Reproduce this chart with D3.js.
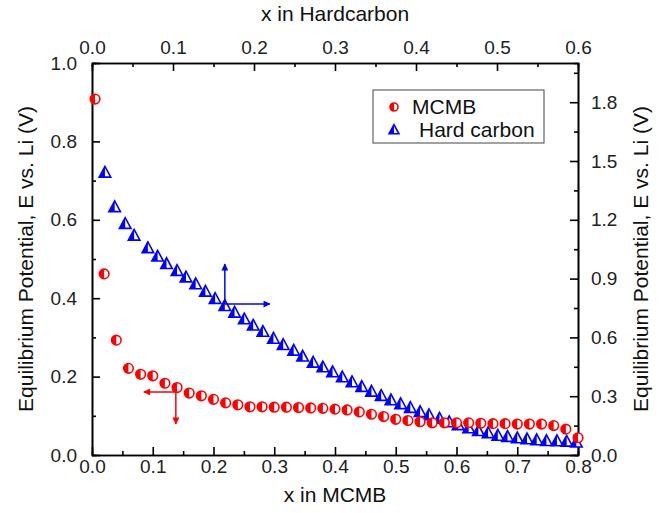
<!DOCTYPE HTML>
<html>
  <head>
    <script src="https://d3js.org/d3.v7.min.js"></script>
    <style>
      body, html {
        margin: 0;
        background: white;
        font-family: 'Liberation Sans', Arial, sans-serif;
      }
      .axis path, .axis line {
        stroke: #000;
        stroke-width: 1.6px;
      }
      .axis text {
        font-size: 19px;
        font-family: 'Liberation Sans', Arial, sans-serif;
        fill: #222;
      }
      .title {
        font-size: 21px;
        fill: #111;
      }
      .legend text {
        font-size: 21px;
        fill: #111;
      }
    </style>
  </head>
  <body>
    <div id="chart"></div>
    <script>
      // MCMB: bottom x axis, left y axis
      var mcmbX = [0.005, 0.02, 0.04, 0.06, 0.08, 0.10, 0.12, 0.14, 0.16, 0.18, 0.20,
                   0.22, 0.24, 0.26, 0.28, 0.30, 0.32, 0.34, 0.36, 0.38, 0.40,
                   0.42, 0.44, 0.46, 0.48, 0.50, 0.52, 0.54, 0.56, 0.58, 0.60,
                   0.62, 0.64, 0.66, 0.68, 0.70, 0.72, 0.74, 0.76, 0.78, 0.80];
      var mcmbE = [0.908, 0.462, 0.293, 0.221, 0.206, 0.202, 0.183, 0.172, 0.158, 0.151, 0.142,
                   0.133, 0.128, 0.123, 0.123, 0.122, 0.122, 0.121, 0.120, 0.119, 0.117,
                   0.115, 0.110, 0.104, 0.098, 0.091, 0.088, 0.085, 0.082, 0.082, 0.082,
                   0.082, 0.081, 0.080, 0.080, 0.079, 0.079, 0.079, 0.075, 0.066, 0.044];
      // Hard carbon: top x axis, right y axis
      var hcX = [0.016, 0.028, 0.041, 0.052, 0.069, 0.081, 0.092, 0.105, 0.116, 0.128,
                 0.140, 0.152, 0.164, 0.176, 0.188, 0.199, 0.211, 0.224, 0.236, 0.249,
                 0.260, 0.273, 0.285, 0.297, 0.309, 0.321, 0.333, 0.345, 0.357, 0.369,
                 0.381, 0.393, 0.405, 0.416, 0.429, 0.441, 0.452, 0.465, 0.477, 0.489,
                 0.501, 0.513, 0.525, 0.537, 0.549, 0.561, 0.574, 0.586, 0.598];
      var hcE = [1.440, 1.264, 1.179, 1.119, 1.055, 1.012, 0.974, 0.939, 0.906, 0.871,
                 0.833, 0.796, 0.760, 0.726, 0.692, 0.660, 0.628, 0.593, 0.561, 0.532,
                 0.502, 0.471, 0.447, 0.422, 0.396, 0.371, 0.347, 0.323, 0.301, 0.279,
                 0.259, 0.240, 0.219, 0.203, 0.185, 0.167, 0.152, 0.136, 0.122, 0.111,
                 0.098, 0.092, 0.085, 0.080, 0.075, 0.071, 0.070, 0.068, 0.063];

      var bottomTicks = [0.0, 0.1, 0.2, 0.3, 0.4, 0.5, 0.6, 0.7, 0.8];
      var topTicks = [0.0, 0.1, 0.2, 0.3, 0.4, 0.5, 0.6];
      var leftTicks = [0.0, 0.2, 0.4, 0.6, 0.8, 1.0];
      var rightTicks = [0.0, 0.3, 0.6, 0.9, 1.2, 1.5, 1.8];

      var seriesNames = ["MCMB", "Hard carbon"];
      var red = "#ff0000", blue = "#0000ff";

      var width = 661, height = 513;
      var margin = {top: 63, right: 83, bottom: 58, left: 92};
      var w = width - margin.left - margin.right;
      var h = height - margin.top - margin.bottom;

      var svg = d3.select("#chart")
        .append("svg")
        .attr("width", width)
        .attr("height", height);
      var g = svg.append("g")
        .attr("transform", "translate(" + margin.left + "," + margin.top + ")");

      var xBottom = d3.scaleLinear().domain([0, 0.8]).range([0, w]);
      var xTop = d3.scaleLinear().domain([0, 0.6]).range([0, w]);
      var yLeft = d3.scaleLinear().domain([0, 1.0]).range([h, 0]);
      var yRight = d3.scaleLinear().domain([0, 2.0]).range([h, 0]);

      var fmt = d3.format(".1f");

      function minor(scale, step) {
        var d = scale.domain(), out = [];
        for (var v = d[0] + step / 2; v < d[1] - 1e-9; v += step) out.push(v);
        return out;
      }

      // minor ticks
      g.append("g").attr("class", "axis")
        .attr("transform", "translate(0," + h + ")")
        .call(d3.axisBottom(xBottom).tickValues(minor(xBottom, 0.1)).tickSize(-4).tickFormat(""));
      g.append("g").attr("class", "axis")
        .call(d3.axisTop(xTop).tickValues(minor(xTop, 0.1)).tickSize(-4).tickFormat(""));
      g.append("g").attr("class", "axis")
        .call(d3.axisLeft(yLeft).tickValues(minor(yLeft, 0.2)).tickSize(-4).tickFormat(""));
      g.append("g").attr("class", "axis")
        .attr("transform", "translate(" + w + ",0)")
        .call(d3.axisRight(yRight).tickValues(minor(yRight, 0.3)).tickSize(-4).tickFormat(""));

      // major ticks
      g.append("g").attr("class", "axis")
        .attr("transform", "translate(0," + h + ")")
        .call(d3.axisBottom(xBottom).tickValues(bottomTicks).tickFormat(fmt)
          .tickSizeInner(-8).tickSizeOuter(0).tickPadding(5));
      g.append("g").attr("class", "axis")
        .call(d3.axisTop(xTop).tickValues(topTicks).tickFormat(fmt)
          .tickSizeInner(-8).tickSizeOuter(0).tickPadding(9));
      g.append("g").attr("class", "axis")
        .call(d3.axisLeft(yLeft).tickValues(leftTicks).tickFormat(fmt)
          .tickSizeInner(-8).tickSizeOuter(0).tickPadding(15));
      g.append("g").attr("class", "axis")
        .attr("transform", "translate(" + w + ",0)")
        .call(d3.axisRight(yRight).tickValues(rightTicks).tickFormat(fmt)
          .tickSizeInner(-8).tickSizeOuter(0).tickPadding(13));

      // axis titles
      svg.append("text").attr("class", "title")
        .attr("x", margin.left + w / 2).attr("y", 21)
        .attr("text-anchor", "middle").text("x in Hardcarbon");
      svg.append("text").attr("class", "title")
        .attr("x", margin.left + w / 2).attr("y", 502)
        .attr("text-anchor", "middle").text("x in MCMB");
      svg.append("text").attr("class", "title")
        .attr("transform", "translate(33," + (margin.top + h / 2) + ") rotate(-90)")
        .attr("text-anchor", "middle").text("Equilibrium Potential, E vs. Li  (V)");
      svg.append("text").attr("class", "title")
        .attr("transform", "translate(648," + (margin.top + h / 2) + ") rotate(-90)")
        .attr("text-anchor", "middle").text("Equilibrium Potential, E vs. Li  (V)");

      // marker drawing
      function halfCircle(sel, r) {
        sel.append("circle").attr("r", r)
          .attr("fill", "white").attr("stroke", red).attr("stroke-width", 1.6);
        sel.append("path")
          .attr("d", "M0," + (-r) + " A" + r + "," + r + " 0 0,0 0," + r + " Z")
          .attr("fill", red);
      }
      function halfTriangle(sel, s) {
        var top = -s * 0.6, bot = s * 0.42, half = s * 0.55;
        sel.append("path")
          .attr("d", "M0," + top + " L" + (-half) + "," + bot + " L" + half + "," + bot + " Z")
          .attr("fill", "white").attr("stroke", blue).attr("stroke-width", 1.6)
          .attr("stroke-linejoin", "miter");
        sel.append("path")
          .attr("d", "M0," + top + " L" + (-half) + "," + bot + " L0," + bot + " Z")
          .attr("fill", blue);
      }

      var mcmb = mcmbX.map((x, i) => ({x: x, e: mcmbE[i]}));
      var hc = hcX.map((x, i) => ({x: x, e: hcE[i]}));

      g.append("g").selectAll("g")
        .data(hc)
        .enter()
        .append("g")
          .attr("transform", d => "translate(" + xTop(d.x) + "," + yRight(d.e) + ")")
          .each(function() { halfTriangle(d3.select(this), 10.5); });

      g.append("g").selectAll("g")
        .data(mcmb)
        .enter()
        .append("g")
          .attr("transform", d => "translate(" + xBottom(d.x) + "," + yLeft(d.e) + ")")
          .each(function() { halfCircle(d3.select(this), 4.8); });

      // arrows pointing to each series' axes
      var defs = svg.append("defs");
      [["arrRed", red], ["arrBlue", blue]].forEach(function(a) {
        defs.append("marker")
          .attr("id", a[0]).attr("viewBox", "0 0 10 10")
          .attr("refX", 9).attr("refY", 5)
          .attr("markerWidth", 9).attr("markerHeight", 7)
          .attr("markerUnits", "userSpaceOnUse")
          .attr("orient", "auto")
          .append("path").attr("d", "M0,0 L10,5 L0,10 Z").attr("fill", a[1]);
      });

      var bx = xTop(0.164), by = yRight(0.77);
      g.append("line").attr("x1", bx).attr("y1", by).attr("x2", bx).attr("y2", by - 40)
        .attr("stroke", blue).attr("stroke-width", 1.5).attr("marker-end", "url(#arrBlue)");
      g.append("line").attr("x1", bx).attr("y1", by).attr("x2", bx + 45).attr("y2", by)
        .attr("stroke", blue).attr("stroke-width", 1.5).attr("marker-end", "url(#arrBlue)");

      var rx = xBottom(0.138), ry = yLeft(0.161);
      g.append("line").attr("x1", rx).attr("y1", ry - 4).attr("x2", rx).attr("y2", ry + 32)
        .attr("stroke", red).attr("stroke-width", 1.5).attr("marker-end", "url(#arrRed)");
      g.append("line").attr("x1", rx).attr("y1", ry).attr("x2", rx - 32).attr("y2", ry)
        .attr("stroke", red).attr("stroke-width", 1.5).attr("marker-end", "url(#arrRed)");

      // legend
      var legend = svg.append("g").attr("class", "legend");
      legend.append("rect")
        .attr("x", 373).attr("y", 90).attr("width", 171).attr("height", 53)
        .attr("fill", "white").attr("stroke", "#444").attr("stroke-width", 1);
      var items = legend.selectAll("g.item")
        .data(seriesNames)
        .enter()
        .append("g")
          .attr("class", "item")
          .attr("transform", (d, i) => "translate(394," + (107 + i * 23) + ")");
      items.each(function(d, i) {
        var s = d3.select(this);
        if (i === 0) halfCircle(s, 4); else halfTriangle(s, 9);
        s.append("text").attr("x", i === 0 ? 18 : 25).attr("y", 7).text(d);
      });
    </script>
  </body>
</html>
